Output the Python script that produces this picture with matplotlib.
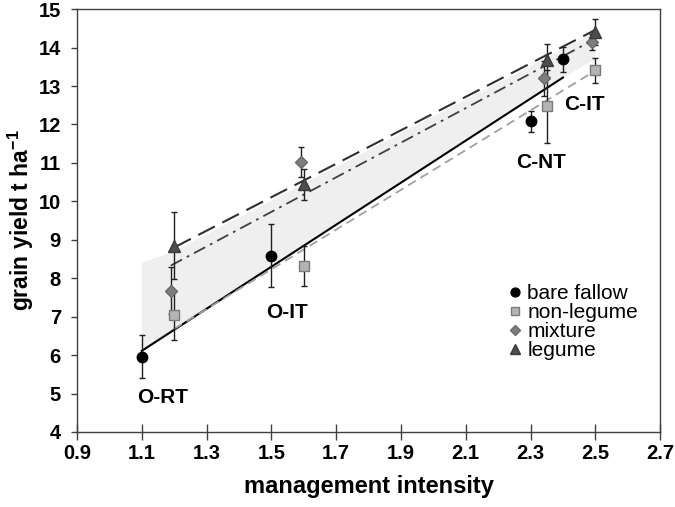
import numpy as np
import matplotlib
matplotlib.use('Agg')
import matplotlib.pyplot as plt

plt.rcParams['font.family'] = ['Liberation Sans', 'DejaVu Sans']

# data
bf_x = [1.1, 1.5, 2.3, 2.4]
bf_y = [5.96, 8.59, 12.08, 13.69]
bf_err = [0.55, 0.81, 0.28, 0.33]

nl_x = [1.2, 1.6, 2.35, 2.5]
nl_y = [7.03, 8.33, 12.47, 13.41]
nl_err = [0.63, 0.52, 0.95, 0.33]

mx_x = [1.19, 1.59, 2.34, 2.49]
mx_y = [7.68, 11.03, 13.2, 14.14]
mx_err = [0.6, 0.39, 0.45, 0.2]

lg_x = [1.2, 1.6, 2.35, 2.5]
lg_y = [8.85, 10.44, 13.67, 14.4]
lg_err = [0.87, 0.4, 0.43, 0.34]

# fitted lines (start, end)
fit_bf = ([1.1, 2.4], [6.11, 13.22])
fit_nl = ([1.2, 2.5], [6.68, 13.40])
fit_mx = ([1.19, 2.49], [8.33, 14.18])
fit_lg = ([1.2, 2.5], [8.80, 14.46])

# shaded band outline
band_x = [1.1, 1.1, 1.2, 2.5, 2.5, 2.4]
band_y = [6.11, 8.40, 8.70, 14.40, 13.70, 13.22]

labels = ['O-RT', 'O-IT', 'C-NT', 'C-IT']
lab_x = [1.163, 1.547, 2.331, 2.466]
lab_y = [4.9, 7.11, 11.0, 12.51]

fig = plt.figure(figsize=(6.75, 5.07), dpi=100)
ax = fig.add_axes([0.114, 0.148, 0.864, 0.834])

ax.fill(band_x, band_y, color='#efefef', lw=0, zorder=1)

ax.plot(*fit_bf, color='black', lw=1.5, zorder=2)
ax.plot(*fit_nl, color='#a0a0a0', lw=1.3, ls=(0, (5, 3)), zorder=2)
ax.plot(*fit_mx, color='#404040', lw=1.3, ls=(0, (7, 3, 1.5, 3)), zorder=2)
ax.plot(*fit_lg, color='#303030', lw=1.5, ls=(0, (9, 4)), zorder=2)

ekw = dict(ecolor='#202020', elinewidth=1, capsize=2.2, capthick=1, ls='none', zorder=3)
ax.errorbar(bf_x, bf_y, yerr=bf_err, marker='o', ms=7.5, mfc='black', mec='black', label='bare fallow', **ekw)
ax.errorbar(nl_x, nl_y, yerr=nl_err, marker='s', ms=7, mfc='#b4b4b4', mec='#7a7a7a', label='non-legume', **ekw)
ax.errorbar(mx_x, mx_y, yerr=mx_err, marker='D', ms=6, mfc='#7d7d7d', mec='#6a6a6a', label='mixture', **ekw)
ax.errorbar(lg_x, lg_y, yerr=lg_err, marker='^', ms=9, mfc='#4d4d4d', mec='#3a3a3a', label='legume', **ekw)

for t, x, y in zip(labels, lab_x, lab_y):
    ax.text(x, y, t, ha='center', va='center', fontsize=15, fontweight='bold')

ax.set_xlim(0.9, 2.7)
ax.set_ylim(4, 15)
ax.set_xticks(np.arange(0.9, 2.71, 0.2))
ax.set_xticklabels(['0.9', '1.1', '1.3', '1.5', '1.7', '1.9', '2.1', '2.3', '2.5', '2.7'])
ax.set_yticks(range(4, 16))
ax.tick_params(axis='x', direction='inout', length=12, width=1, color='#404040', labelsize=14.5, pad=3)
ax.tick_params(axis='y', direction='out', length=4.5, width=1, color='#404040', labelsize=14.5, pad=7)
for lab in ax.get_xticklabels() + ax.get_yticklabels():
    lab.set_fontweight('bold')
for s in ax.spines.values():
    s.set_color('#404040')
    s.set_linewidth(1)

ax.set_xlabel('management intensity', fontsize=17, fontweight='bold', labelpad=8)
ax.set_ylabel('grain yield t ha$^{\\mathregular{-1}}$', fontsize=16.5, fontweight='bold', labelpad=2)

h, l = ax.get_legend_handles_labels()
h = [x[0] for x in h]
ax.legend(h, l, loc='upper left', bbox_to_anchor=(0.74, 0.35), frameon=False,
          fontsize=15, handlelength=0.6, handletextpad=0.3, labelspacing=0.0,
          borderpad=0, borderaxespad=0, markerscale=0.85)

fig.savefig('out.png', dpi=100)
